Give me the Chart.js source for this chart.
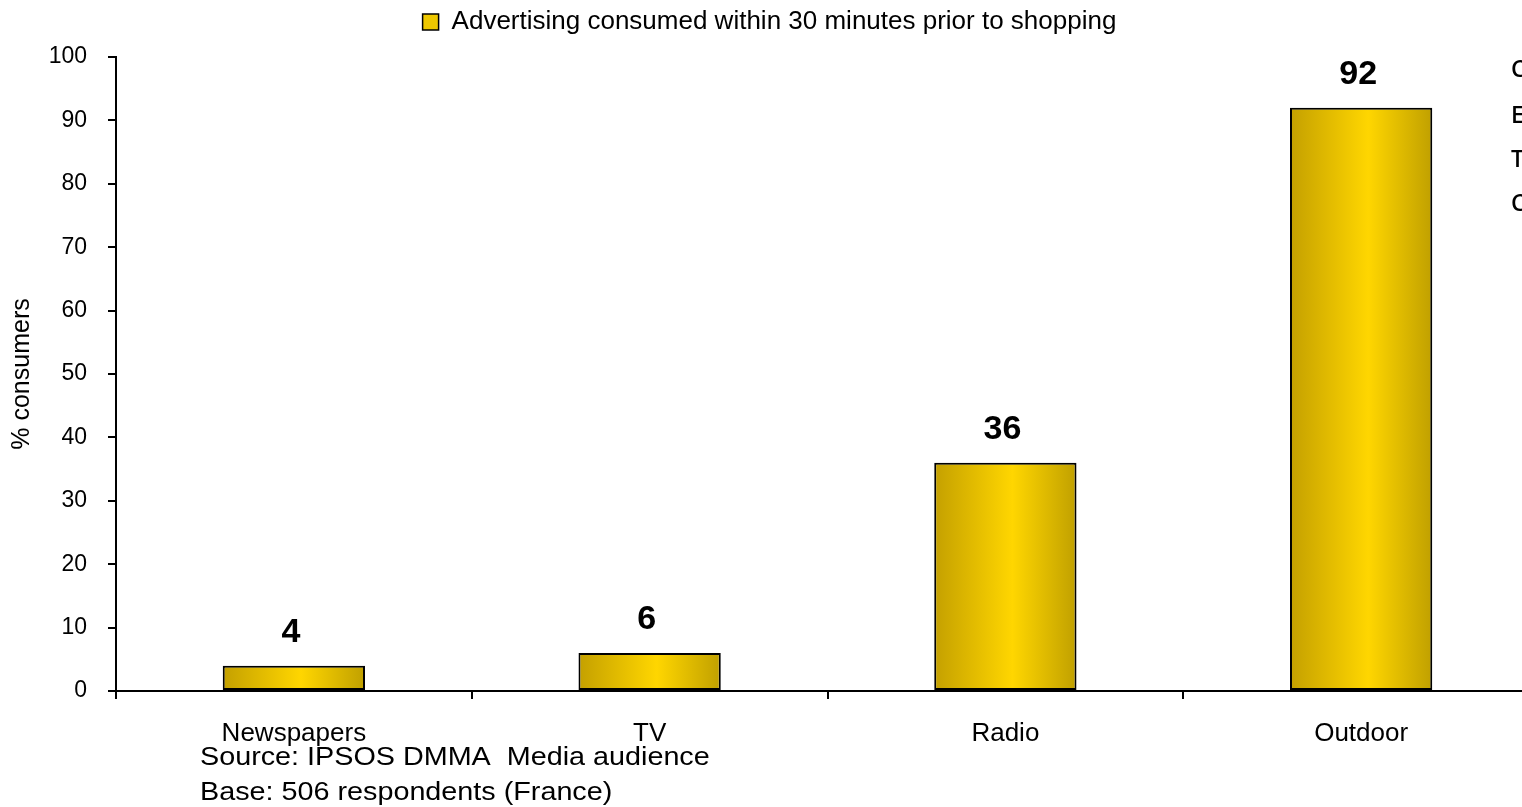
<!DOCTYPE html>
<html>
<head>
<meta charset="utf-8">
<script src="https://cdn.jsdelivr.net/npm/chart.js@4"></script>
<style>
  html, body { margin: 0; padding: 0; width: 1522px; height: 807px; overflow: hidden; background: #fff; }
  #wrap { position: absolute; left: 0; top: 0; width: 1540px; height: 807px; }
  .nota { position: absolute; font-family: "Liberation Sans", Arial, sans-serif; font-size: 25px; line-height: 25px; color: #000; white-space: nowrap; transform: scaleX(1.15); transform-origin: left top; }
  .lateral { position: absolute; left: 1511px; font-family: "Open Sans", sans-serif; font-weight: 600; font-size: 23px; color: #000; }
</style>
</head>
<body>
<div id="wrap"><canvas id="grafico" width="1540" height="807"></canvas></div>
<div class="nota" style="left:200px; top:744px;">Source: IPSOS DMMA&nbsp; Media audience</div>
<div class="nota" style="left:200px; top:779px;">Base: 506 respondents (France)</div>
<div class="lateral" style="top:52px;">C</div>
<div class="lateral" style="top:98px;">E</div>
<div class="lateral" style="top:142px;">T</div>
<div class="lateral" style="top:186px;">C</div>
<script>
// Datos del gráfico
const medios = ['Newspapers', 'TV', 'Radio', 'Outdoor'];
const porcentajes = [4, 6, 36, 92];
const serie = 'Advertising consumed within 30 minutes prior to shopping';
const ticksY = [0, 10, 20, 30, 40, 50, 60, 70, 80, 90, 100];

const fuente = '"Liberation Sans", Arial, sans-serif';

// Degradado horizontal dorado para cada barra
function colorBarra(context) {
    const chart = context.chart;
    if (!chart.chartArea || context.dataIndex === undefined) return '#E8C400';
    const xs = chart.scales.x;
    const cx = xs.getPixelForValue(context.dataIndex);
    const w = (xs.width / medios.length) * 0.4;
    const g = chart.ctx.createLinearGradient(cx - w / 2, 0, cx + w / 2, 0);
    g.addColorStop(0, '#C4A000');
    g.addColorStop(0.55, '#FFD600');
    g.addColorStop(1, '#C0A000');
    return g;
}

// Etiquetas de valor encima de cada barra
const etiquetasValor = {
    id: 'etiquetasValor',
    afterDatasetsDraw(chart) {
        const ctx = chart.ctx;
        const meta = chart.getDatasetMeta(0);
        ctx.save();
        ctx.font = 'bold 34px ' + fuente;
        ctx.fillStyle = '#000';
        ctx.textAlign = 'center';
        ctx.textBaseline = 'middle';
        meta.data.forEach((barra, i) => {
            ctx.fillText(String(porcentajes[i]), barra.x - 3, barra.y - 33);
        });
        ctx.restore();
    }
};

// Altura fija de la leyenda para que el área del gráfico empiece donde debe
const alturaLeyenda = {
    id: 'alturaLeyenda',
    beforeInit(chart) {
        const fitOriginal = chart.legend.fit;
        chart.legend.fit = function () {
            fitOriginal.bind(chart.legend)();
            this.height = 57;
        };
    }
};

const ctx = document.getElementById('grafico').getContext('2d');
new Chart(ctx, {
    type: 'bar',
    data: {
        labels: medios,
        datasets: [{
            label: serie,
            data: porcentajes,
            backgroundColor: colorBarra,
            borderColor: '#000',
            borderWidth: 2,
            borderSkipped: false,
            categoryPercentage: 1,
            barPercentage: 0.4
        }]
    },
    options: {
        responsive: false,
        animation: false,
        layout: { padding: { left: 0, right: 1, top: 0, bottom: 0 } },
        scales: {
            x: {
                offset: true,
                border: { color: '#000', width: 2 },
                grid: { offset: true, drawOnChartArea: false, drawTicks: true, tickLength: 8, color: '#000', lineWidth: 2 },
                ticks: { color: '#000', font: { family: fuente, size: 26 }, padding: 19, maxRotation: 0 },
                afterFit(scale) { scale.height = 116; }
            },
            y: {
                min: 0,
                max: 100,
                afterBuildTicks(scale) { scale.ticks = ticksY.map(v => ({ value: v })); },
                border: { color: '#000', width: 2 },
                grid: { drawOnChartArea: false, drawTicks: true, tickLength: 8, color: '#000', lineWidth: 2 },
                ticks: { color: '#000', font: { family: fuente, size: 23 }, padding: 21 },
                title: {
                    display: true,
                    text: '% consumers',
                    color: '#000',
                    font: { family: fuente, size: 25 },
                    padding: { top: 7, bottom: 0 }
                },
                afterFit(scale) { scale.width = 116; }
            }
        },
        plugins: {
            legend: {
                position: 'top',
                labels: {
                    color: '#000',
                    font: { family: fuente, size: 26 },
                    boxWidth: 16,
                    boxHeight: 16,
                    padding: 9,
                    generateLabels() {
                        return [{ text: serie, fillStyle: '#EEC800', strokeStyle: '#000', lineWidth: 1.5, datasetIndex: 0 }];
                    }
                }
            },
            tooltip: { enabled: false }
        }
    },
    plugins: [etiquetasValor, alturaLeyenda]
});
</script>
</body>
</html>
